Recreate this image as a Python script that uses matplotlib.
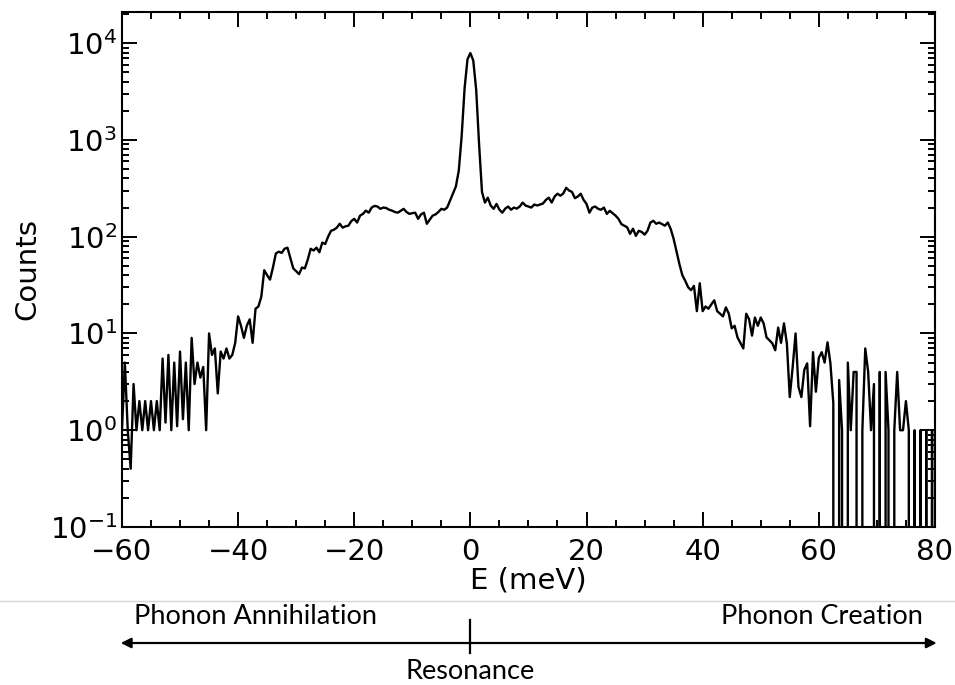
import numpy as np
import matplotlib.pyplot as plt
from matplotlib.ticker import MultipleLocator, LogLocator, NullFormatter
from matplotlib import transforms
from matplotlib.lines import Line2D

# spectrum, 0.5 meV bins from -60 to 80 meV
counts = [
    1.0, 5, 1, 0.4, 3, 1, 2, 1, 2, 1,                       # -60
    2, 1, 2, 1, 5.5, 1.2, 6, 1, 5, 1.1,                     # -55
    6.5, 1.3, 5, 1, 9, 3, 5, 3.5, 4.5, 1,                   # -50
    10, 6, 7, 2.4, 6.5, 5.5, 7, 5.5, 6, 8,                  # -45
    15, 12, 9, 12, 14, 8, 18, 19, 24, 45,                   # -40
    40, 36, 48, 67, 70, 68, 75, 77, 60, 47,                 # -35
    44, 41, 48, 47, 58, 75, 72, 77, 69, 87,                 # -30
    84, 100, 115, 118, 124, 136, 124, 128, 130, 145,        # -25
    153, 140, 165, 172, 186, 177, 200, 208, 205, 194,       # -20
    200, 198, 190, 186, 180, 177, 185, 194, 180, 172,       # -15
    175, 177, 153, 170, 177, 136, 150, 165, 170, 180,       # -10
    194, 190, 200, 236, 278, 330, 480, 1100, 3400, 6800,    # -5
    7900, 6600, 3300, 900, 290, 225, 253, 210, 194, 218,    # 0
    190, 177, 195, 205, 190, 200, 195, 205, 225, 210,       # 5
    205, 200, 215, 210, 215, 220, 240, 253, 225, 260,       # 10
    278, 265, 280, 320, 300, 290, 250, 260, 278, 240,       # 15
    218, 177, 200, 205, 194, 190, 200, 172, 185, 175,       # 20
    165, 153, 135, 130, 125, 107, 121, 102, 115, 112,       # 25
    105, 115, 140, 146, 136, 140, 135, 130, 140, 120,       # 30
    95, 70, 52, 40, 35, 30, 28, 31, 17, 33,                 # 35
    17, 19, 18, 20, 22, 17, 16, 15, 18.6, 16,               # 40
    11.3, 12, 9.1, 8, 7, 16, 14, 9.5, 14.6, 12,             # 45
    14.6, 12.7, 9.1, 8.5, 7.9, 6.7, 11.5, 8, 12.7, 7.9,     # 50
    2.2, 4.5, 10, 2.8, 2.2, 4.2, 4.9, 1.1, 6.4, 2.5,        # 55
    5.6, 6.4, 5, 8.1, 4.9, 1.9, 0, 3.3, 1, 0,               # 60
    5, 1, 4, 4, 0, 1, 7, 4, 1, 3,                           # 65
    0, 4, 0, 4, 1, 0, 1, 4, 1, 1,                           # 70
    2, 1, 0, 1, 0, 1, 0, 1, 0, 1,                           # 75
    0,                                                      # 80
]
energy = np.arange(-60, 80.25, 0.5)

fig = plt.figure(figsize=(9.55, 6.85), dpi=100)
ax = fig.add_axes([0.1277, 0.2307, 0.8513, 0.7518])

ax.plot(energy, counts, color='black', lw=1.7)
ax.set_yscale('log')
ax.set_xlim(-60, 80)
ax.set_ylim(0.1, 2.1e4)

ax.xaxis.set_major_locator(MultipleLocator(20))
ax.xaxis.set_minor_locator(MultipleLocator(5))
ax.yaxis.set_major_locator(LogLocator(base=10, numticks=10))
ax.yaxis.set_minor_locator(LogLocator(base=10, subs=np.arange(2, 10), numticks=20))
ax.yaxis.set_minor_formatter(NullFormatter())

ax.tick_params(which='both', direction='in', top=True, right=True, width=1.4)
ax.tick_params(which='major', length=10.5, labelsize=21)
ax.tick_params(which='minor', length=5)
ax.tick_params(axis='x', which='major', pad=8)
for s in ax.spines.values():
    s.set_linewidth(1.5)

ax.set_xlabel('E (meV)', fontsize=21, labelpad=0)
ax.set_ylabel('Counts', fontsize=21, labelpad=6)

# annotation strip under the plot
fig.add_artist(Line2D([0, 1], [0.1226, 0.1226], transform=fig.transFigure,
                      color='#d6d6d6', lw=1))
trans = transforms.blended_transform_factory(ax.transData, fig.transFigure)
ax.annotate('', xy=(-60.2, 0.0613), xytext=(80.3, 0.0613), xycoords=trans,
            textcoords=trans, annotation_clip=False,
            arrowprops=dict(arrowstyle='<|-|>', color='black', lw=1.6,
                            mutation_scale=15, shrinkA=0, shrinkB=0))
fig.add_artist(Line2D([0, 0], [0.046, 0.095], transform=trans,
                      color='black', lw=1.6))

txt = dict(family='Lato', fontsize=19.5, color='black')
fig.text(-58, 0.0993, 'Phonon Annihilation', transform=trans,
         ha='left', va='center', **txt)
fig.text(77.9, 0.0993, 'Phonon Creation', transform=trans,
         ha='right', va='center', **txt)
fig.text(0, 0.019, 'Resonance', transform=trans,
         ha='center', va='center', **txt)

fig.savefig('out.png', dpi=100)
